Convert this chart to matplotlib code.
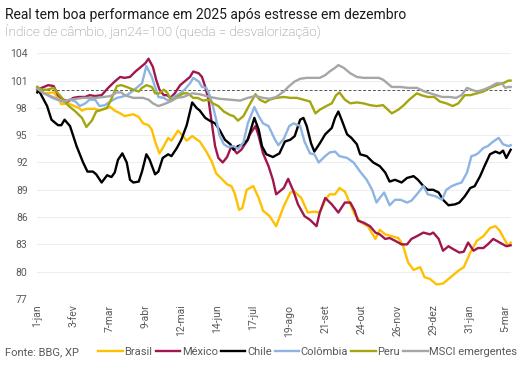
import numpy as np
import pandas as pd
import matplotlib
matplotlib.use("Agg")
import matplotlib.pyplot as plt
import matplotlib.dates as mdates

plt.rcParams['font.family'] = ['Roboto', 'DejaVu Sans']

# dias desde 1-jan-2024 e índice (jan24=100)
brasil_d = [0, 6, 15, 19, 22, 28, 38, 41, 45, 53, 57, 67, 71, 76, 80, 88, 93, 97, 102, 105, 108, 112, 116,
            120, 123, 129, 133, 137, 142, 149, 155, 160, 164, 169, 174, 178, 181, 185, 188, 192, 198, 203,
            207, 213, 219, 226, 232, 236, 242, 248, 254, 259, 264, 268, 273, 277, 282, 287, 291, 297, 303,
            310, 314, 319, 325, 331, 335, 340, 345, 351, 355, 360, 366, 372, 380, 386, 391, 397, 403, 409,
            415, 420, 424, 429, 432, 434]
brasil_v = [100.2, 99.6, 99.7, 99.1, 98.4, 98.5, 98.0, 97.7, 97.9, 97.9, 97.7, 98.1, 97.7, 97.4, 97.1, 97.3,
            97.0, 96.3, 96.1, 95.6, 94.3, 93.0, 93.8, 94.7, 94.4, 95.5, 95.0, 94.4, 94.9, 94.3, 93.2, 92.1,
            90.8, 90.2, 89.6, 89.4, 88.6, 86.8, 87.0, 89.0, 89.4, 88.1, 86.7, 86.1, 85.0, 87.2, 88.7, 88.8,
            88.1, 86.5, 86.6, 86.5, 87.9, 88.5, 88.5, 89.2, 88.8, 87.4, 86.3, 85.4, 85.0, 83.6, 84.6, 84.1,
            83.9, 83.7, 83.0, 81.0, 80.2, 80.5, 79.4, 79.2, 78.6, 78.7, 79.5, 80.1, 80.5, 82.1, 83.4, 83.9,
            84.8, 85.0, 84.5, 83.4, 82.8, 83.2]

mexico_d = [0, 6, 10, 15, 19, 24, 28, 33, 38, 44, 48, 53, 59, 65, 71, 76, 80, 85, 90, 94, 99, 102, 106, 109,
            112, 116, 119, 122, 126, 131, 135, 140, 143, 148, 151, 154, 157, 160, 163, 166, 170, 174, 178,
            183, 187, 192, 195, 200, 203, 207, 212, 216, 219, 226, 230, 235, 239, 245, 250, 256, 259, 264,
            270, 276, 282, 287, 291, 294, 299, 305, 310, 314, 319, 323, 328, 334, 339, 343, 348, 354, 360,
            363, 368, 372, 377, 381, 387, 391, 395, 400, 404, 409, 413, 418, 424, 430, 434]
mexico_v = [100.0, 100.3, 100.5, 100.4, 99.4, 98.9, 98.7, 99.1, 99.2, 99.2, 99.4, 99.3, 99.4, 100.2, 100.9,
            101.4, 101.3, 101.4, 102.0, 102.4, 102.9, 103.4, 102.5, 101.1, 100.0, 99.4, 99.4, 99.1, 99.6,
            100.5, 100.9, 101.4, 102.0, 101.8, 101.4, 100.3, 98.9, 96.3, 93.8, 92.5, 92.0, 92.6, 93.8, 93.0,
            93.4, 94.3, 95.1, 96.0, 94.9, 93.0, 91.6, 90.1, 88.5, 89.2, 90.2, 88.8, 87.4, 86.1, 85.7, 85.0,
            86.5, 88.1, 87.4, 86.5, 87.6, 87.6, 86.7, 85.6, 85.4, 85.0, 84.3, 84.1, 83.6, 83.7, 83.4, 83.0,
            83.0, 83.6, 83.9, 84.3, 84.1, 84.3, 83.6, 82.3, 82.8, 82.5, 82.1, 82.2, 83.2, 82.3, 82.6, 82.6,
            83.0, 83.6, 83.2, 82.8, 82.9]

chile_d = [0, 1, 9, 13, 19, 22, 25, 30, 36, 42, 46, 51, 54, 59, 64, 68, 71, 74, 78, 82, 85, 88, 93, 96, 100,
           103, 108, 111, 115, 120, 123, 128, 132, 137, 142, 146, 149, 154, 158, 163, 167, 172, 177, 180,
           184, 189, 193, 199, 203, 206, 210, 216, 222, 227, 232, 236, 241, 244, 247, 251, 254, 259, 264,
           270, 273, 276, 279, 284, 288, 293, 296, 302, 308, 314, 319, 323, 328, 334, 339, 345, 349, 354,
           358, 363, 368, 372, 377, 383, 387, 392, 397, 401, 406, 410, 415, 420, 424, 427, 430, 434]
chile_v = [99.7, 100.0, 98.2, 96.7, 96.1, 96.1, 96.7, 96.0, 93.8, 92.0, 91.0, 91.0, 90.7, 89.8, 90.6, 90.4,
           90.9, 92.3, 93.0, 92.0, 90.1, 89.8, 89.9, 91.0, 92.9, 92.3, 90.7, 91.0, 92.5, 92.9, 92.7, 93.6,
           94.5, 96.1, 98.6, 98.0, 97.7, 96.9, 96.6, 96.3, 95.6, 94.5, 94.0, 93.4, 93.8, 94.0, 94.5, 96.9,
           95.6, 93.8, 92.9, 92.6, 93.0, 94.3, 94.5, 94.9, 96.7, 96.9, 96.0, 94.1, 93.2, 94.1, 95.1, 95.8,
           96.9, 97.6, 96.7, 95.1, 94.7, 94.0, 92.9, 92.7, 92.0, 91.6, 90.9, 89.9, 90.1, 89.8, 90.3, 90.5,
           90.1, 89.4, 89.0, 89.0, 88.7, 87.9, 87.3, 87.4, 87.6, 88.3, 89.2, 89.4, 90.5, 91.6, 92.9, 93.2,
           93.0, 93.3, 92.5, 93.4]

colombia_d = [0, 4, 12, 18, 24, 30, 35, 39, 44, 48, 53, 57, 62, 67, 73, 77, 82, 87, 91, 96, 100, 105, 108,
              111, 116, 120, 125, 131, 135, 140, 143, 148, 151, 155, 158, 161, 164, 167, 171, 175, 180, 184,
              189, 193, 199, 203, 207, 212, 218, 221, 226, 231, 235, 241, 245, 250, 254, 258, 264, 268, 273,
              277, 284, 290, 296, 302, 307, 311, 314, 318, 323, 328, 333, 339, 343, 348, 354, 358, 365, 371,
              375, 380, 384, 389, 394, 398, 401, 404, 409, 413, 418, 423, 427, 432, 434]
colombia_v = [100.3, 99.8, 99.2, 98.9, 98.7, 98.9, 98.7, 98.2, 98.5, 98.9, 98.9, 98.2, 98.3, 98.7, 99.1,
              99.2, 99.4, 99.8, 100.2, 100.7, 102.6, 101.4, 100.3, 99.2, 99.1, 98.8, 99.2, 99.6, 100.0,
              100.7, 101.3, 100.9, 100.3, 100.2, 99.4, 98.2, 96.7, 95.0, 94.0, 93.7, 93.8, 93.5, 94.2, 96.3,
              98.1, 97.1, 96.3, 96.0, 94.5, 93.9, 94.6, 96.0, 96.3, 96.0, 94.3, 93.0, 92.9, 92.0, 92.7, 93.1,
              93.2, 92.7, 92.5, 92.0, 91.0, 90.1, 89.0, 87.6, 88.1, 88.7, 87.3, 87.9, 87.9, 87.6, 87.8, 88.5,
              89.4, 88.5, 88.3, 87.9, 89.0, 89.4, 89.6, 89.8, 90.9, 92.7, 92.8, 93.0, 93.6, 93.8, 94.3, 94.7,
              94.0, 93.8, 93.9]

peru_d = [0, 4, 9, 15, 19, 24, 28, 35, 41, 45, 50, 54, 59, 64, 68, 73, 77, 82, 88, 93, 96, 100, 105, 108,
          112, 116, 119, 123, 128, 134, 138, 143, 147, 152, 157, 161, 166, 171, 177, 180, 184, 189, 193, 200,
          204, 209, 213, 219, 226, 232, 238, 244, 250, 255, 259, 265, 270, 274, 277, 282, 287, 293, 299, 305,
          311, 317, 325, 331, 336, 341, 348, 352, 358, 364, 369, 375, 381, 386, 392, 397, 403, 409, 415, 421,
          427, 432, 434]
peru_v = [100.3, 100.0, 100.0, 100.2, 99.6, 98.9, 98.3, 97.6, 96.9, 95.9, 96.6, 97.6, 97.8, 98.0, 99.0,
          100.4, 100.5, 100.3, 100.0, 99.8, 100.2, 100.5, 100.3, 99.6, 99.6, 100.0, 99.7, 98.8, 99.2, 99.6,
          99.6, 99.1, 99.1, 98.8, 98.9, 98.5, 98.2, 97.6, 97.2, 97.1, 96.6, 97.1, 98.0, 99.5, 98.9, 98.6,
          98.9, 99.1, 99.2, 99.1, 99.1, 98.9, 98.7, 97.4, 97.8, 98.2, 98.5, 99.4, 99.7, 98.9, 98.5, 98.6,
          98.5, 98.3, 98.2, 98.3, 97.4, 97.8, 98.3, 98.9, 99.6, 99.4, 99.2, 99.2, 98.7, 98.5, 98.2, 98.5,
          99.4, 99.4, 99.6, 99.8, 100.2, 100.5, 100.7, 101.0, 101.0]

msci_d = [0, 6, 12, 18, 24, 30, 42, 54, 61, 67, 73, 77, 80, 88, 97, 102, 106, 111, 116, 122, 128, 134, 142,
          149, 158, 167, 177, 186, 193, 200, 207, 213, 219, 226, 230, 236, 241, 247, 253, 259, 264, 268, 273,
          276, 281, 287, 293, 299, 305, 313, 317, 325, 333, 340, 348, 355, 363, 371, 378, 384, 389, 394, 398,
          403, 409, 415, 421, 426, 429, 432, 434]
msci_v = [100.1, 99.6, 99.3, 99.0, 98.7, 98.9, 99.1, 99.1, 99.2, 99.3, 99.7, 99.7, 99.4, 99.1, 99.1, 98.9,
          98.5, 98.2, 98.4, 98.7, 99.1, 99.2, 99.6, 99.5, 99.2, 99.0, 98.9, 98.8, 99.1, 99.3, 99.1, 99.0,
          99.2, 99.8, 100.3, 100.9, 101.2, 101.3, 101.3, 101.3, 101.6, 102.0, 102.4, 102.7, 102.4, 101.8,
          101.4, 101.3, 101.3, 101.3, 101.1, 100.3, 100.3, 100.2, 100.2, 99.8, 99.5, 99.2, 99.2, 99.1, 99.4,
          100.2, 100.0, 99.8, 100.0, 100.3, 100.7, 100.7, 100.2, 100.3, 100.3]

series = [
    ("Brasil", brasil_d, brasil_v, "#FFC000"),
    ("México", mexico_d, mexico_v, "#A0174F"),
    ("Chile", chile_d, chile_v, "#000000"),
    ("Colômbia", colombia_d, colombia_v, "#8DB4E2"),
    ("Peru", peru_d, peru_v, "#A3A60F"),
    ("MSCI emergentes", msci_d, msci_v, "#A6A6A6"),
]

meses = ["jan", "fev", "mar", "abr", "mai", "jun", "jul", "ago", "set", "out", "nov", "dez"]
inicio = pd.Timestamp("2024-01-01")
ticks = pd.date_range(inicio, periods=14, freq="33D")
tick_labels = [f"{t.day}-{meses[t.month - 1]}" for t in ticks]

fig = plt.figure(figsize=(5.32, 3.75), dpi=100)
ax = fig.add_axes([0.0701, 0.2027, 0.8898, 0.6552])

for nome, d, v, cor in series:
    datas = inicio + pd.to_timedelta(d, unit="D")
    ax.plot(datas, v, color=cor, lw=1.7, label=nome, solid_joinstyle="round", clip_on=False)

ax.axhline(100, color="#555555", lw=0.7, ls=(0, (3, 2)), zorder=0.5)

ax.set_ylim(77, 104)
ax.set_yticks(np.arange(77, 105, 3))
ax.set_xlim(inicio, inicio + pd.Timedelta(days=434))
ax.set_xticks(ticks)
ax.set_xticklabels(tick_labels, rotation=90)
ax.grid(axis="y", color="#EEEEEE", lw=0.8)
ax.set_axisbelow(True)
for s in ax.spines.values():
    s.set_visible(False)
ax.tick_params(length=0, labelsize=7.5, labelcolor="#595959")
ax.tick_params(axis="y", pad=7)
ax.tick_params(axis="x", pad=4)

fig.text(0.009, 0.96, "Real tem boa performance em 2025 após estresse em dezembro",
         fontsize=10, color="#1a1a1a", va="center", ha="left")
fig.text(0.009, 0.917, "Índice de câmbio, jan24=100 (queda = desvalorização)",
         fontsize=9.7, color="#7f7f7f", va="center", ha="left", fontweight="light")
fig.text(0.009, 0.061, "Fonte: BBG, XP", fontsize=8, color="#595959", va="center", ha="left")

fig.legend(loc="center left", bbox_to_anchor=(0.185, 0.061), ncol=6, frameon=False,
           fontsize=8, handlelength=2.2, handletextpad=0.15, columnspacing=0.28,
           labelcolor="#595959", borderaxespad=0, borderpad=0)

fig.savefig("out.png", dpi=100)
